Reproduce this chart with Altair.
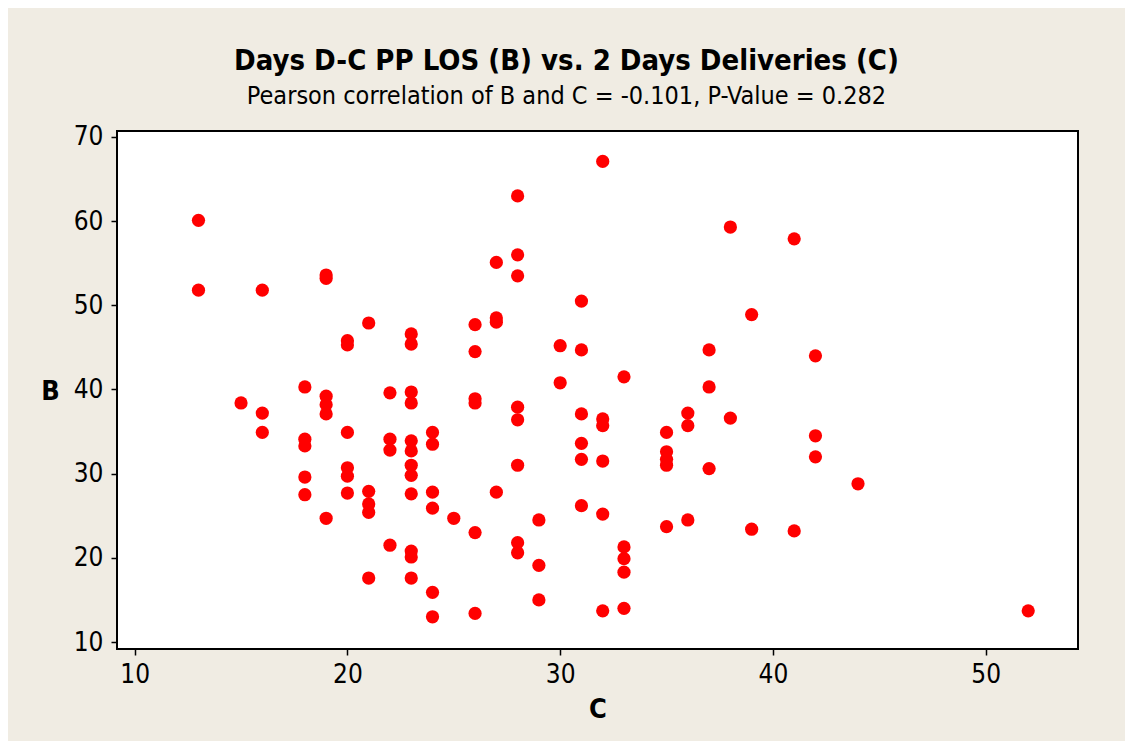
import altair as alt
import pandas as pd

C = [13, 13,
     15,
     16, 16, 16,
     18, 18, 18, 18, 18,
     19, 19, 19, 19, 19, 19,
     20, 20, 20, 20, 20, 20,
     21, 21, 21, 21, 21,
     22, 22, 22, 22,
     23, 23, 23, 23, 23, 23, 23, 23, 23, 23, 23, 23,
     24, 24, 24, 24, 24, 24,
     25,
     26, 26, 26, 26, 26, 26,
     27, 27, 27, 27,
     28, 28, 28, 28, 28, 28, 28, 28,
     29, 29, 29,
     30, 30,
     31, 31, 31, 31, 31, 31,
     32, 32, 32, 32, 32, 32,
     33, 33, 33, 33, 33,
     35, 35, 35, 35, 35,
     36, 36, 36,
     37, 37, 37,
     38, 38,
     39, 39,
     41, 41,
     42, 42, 42,
     44,
     52]

B = [60.1, 51.8,
     38.4,
     51.8, 37.2, 34.9,
     40.3, 34.1, 33.3, 29.6, 27.5,
     53.6, 53.2, 39.2, 38.2, 37.1, 24.7,
     45.8, 45.3, 34.9, 30.7, 29.7, 27.7,
     47.9, 27.9, 26.4, 25.4, 17.6,
     39.6, 34.1, 32.8, 21.5,
     46.6, 45.4, 39.7, 38.4, 33.9, 32.7, 31.0, 29.8, 27.6, 20.8, 20.1, 17.6,
     34.9, 33.5, 27.8, 25.9, 15.9, 13.0,
     24.7,
     47.7, 44.5, 38.9, 38.4, 23.0, 13.4,
     55.1, 48.5, 48.0, 27.8,
     63.0, 56.0, 53.5, 37.9, 36.4, 31.0, 21.8, 20.6,
     24.5, 19.1, 15.0,
     45.2, 40.8,
     50.5, 44.7, 37.1, 33.6, 31.7, 26.2,
     67.1, 36.5, 35.7, 31.5, 25.2, 13.7,
     41.5, 21.3, 19.9, 18.3, 14.0,
     34.9, 32.6, 31.7, 31.0, 23.7,
     37.2, 35.7, 24.5,
     44.7, 40.3, 30.6,
     59.3, 36.6,
     48.9, 23.4,
     57.9, 23.2,
     44.0, 34.5, 32.0,
     28.8,
     13.7]

x_ticks = [10, 20, 30, 40, 50]
y_ticks = [10, 20, 30, 40, 50, 60, 70]

df = pd.DataFrame({"C": C, "B": B})

FONT = "DejaVu Sans Condensed, DejaVu Sans"

chart = alt.Chart(df).mark_circle(
    color="#FF0000", size=175, opacity=1
).encode(
    x=alt.X("C:Q",
            scale=alt.Scale(domain=[9.17, 54.34], nice=False, zero=False),
            axis=alt.Axis(values=x_ticks, title="C", grid=False, domain=False,
                          tickColor="black", tickSize=6, tickWidth=1.5,
                          labelFont=FONT, labelFontSize=26, labelColor="black",
                          labelPadding=6,
                          titleFont=FONT, titleFontSize=27, titleFontWeight="bold",
                          titleColor="black", titleAnchor="middle",
                          titleBaseline="alphabetic", titleY=68)),
    y=alt.Y("B:Q",
            scale=alt.Scale(domain=[9.17, 70.71], nice=False, zero=False),
            axis=alt.Axis(values=y_ticks, title="B", grid=False, domain=False,
                          tickColor="black", tickSize=6, tickWidth=1.5,
                          labelFont=FONT, labelFontSize=26, labelColor="black",
                          labelPadding=8,
                          titleFont=FONT, titleFontSize=27, titleFontWeight="bold",
                          titleColor="black", titleAngle=0, titleAlign="center",
                          titleBaseline="alphabetic", titleX=-67, titleY=268)),
).properties(
    width=961,
    height=518,
    padding={"left": 109, "top": 123, "right": 47, "bottom": 92},
    autosize=alt.AutoSizeParams(type="none"),
    background="#F0ECE3",
    title=alt.TitleParams(
        text="Days D-C PP LOS (B) vs. 2 Days Deliveries (C)",
        subtitle="Pearson correlation of B and C = -0.101, P-Value = 0.282",
        font=FONT, fontSize=29, fontWeight="bold", color="black",
        subtitleFont=FONT, subtitleFontSize=25, subtitleColor="black",
        subtitlePadding=8, anchor="middle", dx=-31, offset=15,
    ),
).configure_view(
    fill="white", stroke="black", strokeWidth=2
)

chart.save("out.html", embed_options={"renderer": "svg", "actions": False})
